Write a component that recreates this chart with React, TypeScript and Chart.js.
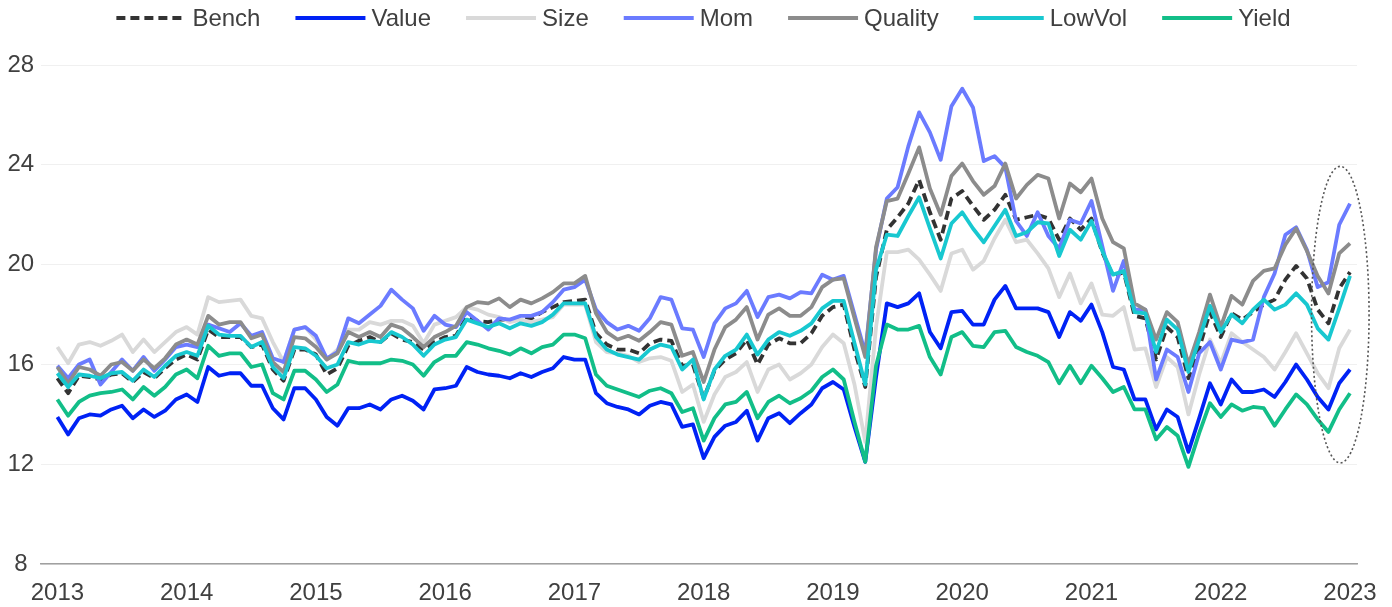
import React, { useEffect, useRef } from "react";
import { Chart, registerables } from "chart.js";

Chart.register(...registerables);

const yearLabels = ["2013", "2014", "2015", "2016", "2017", "2018", "2019", "2020", "2021", "2022", "2023"];
const yTicks = [8, 12, 16, 20, 24, 28];

const bench = [15.45, 14.85, 15.55, 15.5, 15.4, 15.6, 15.65, 15.3, 15.7, 15.45, 15.85, 16.2, 16.4, 16.2, 17.4, 17.1, 17.1, 17.1, 16.7, 16.8, 15.8, 15.35, 16.6, 16.6, 16.4, 15.6, 15.85, 16.75, 16.95, 17.1, 16.9, 17.25, 17.0, 16.9, 16.6, 16.9, 17.1, 17.15, 17.9, 17.75, 17.7, 17.8, 17.8, 17.8, 17.85, 18.1, 18.3, 18.5, 18.55, 18.6, 17.25, 16.8, 16.6, 16.6, 16.45, 16.85, 17.0, 16.95, 15.95, 16.0, 14.65, 15.75, 16.2, 16.45, 17.0, 16.0, 16.8, 17.05, 16.85, 16.85, 17.25, 17.95, 18.3, 18.4, 16.6, 15.1, 19.5, 21.4, 21.9, 22.45, 23.4, 22.1, 21.0, 22.65, 22.95, 22.35, 21.8, 22.2, 22.8, 21.8, 21.9, 22.0, 21.85, 21.0, 21.85, 21.4, 21.85, 20.5, 19.55, 19.7, 17.95, 17.85, 16.2, 17.5, 17.1, 15.45, 16.65, 18.1, 17.1, 18.05, 17.8, 18.1, 18.4, 18.6, 19.4, 19.95, 19.45, 18.2, 17.65, 19.05, 19.7];

const value = [13.9, 13.2, 13.85, 14.0, 13.95, 14.2, 14.35, 13.85, 14.2, 13.9, 14.15, 14.6, 14.8, 14.5, 15.9, 15.55, 15.65, 15.65, 15.15, 15.15, 14.25, 13.8, 15.05, 15.05, 14.6, 13.9, 13.55, 14.25, 14.25, 14.4, 14.2, 14.6, 14.75, 14.55, 14.2, 15.0, 15.05, 15.15, 15.9, 15.7, 15.6, 15.55, 15.45, 15.65, 15.5, 15.7, 15.85, 16.3, 16.2, 16.2, 14.85, 14.45, 14.3, 14.2, 14.0, 14.35, 14.5, 14.4, 13.5, 13.6, 12.25, 13.1, 13.55, 13.7, 14.15, 12.95, 13.85, 14.05, 13.65, 14.05, 14.4, 15.05, 15.3, 15.0, 13.5, 12.1, 15.5, 18.45, 18.3, 18.45, 18.85, 17.3, 16.65, 18.1, 18.15, 17.6, 17.6, 18.6, 19.15, 18.25, 18.25, 18.25, 18.1, 17.1, 18.1, 17.75, 18.4, 17.3, 15.9, 15.8, 14.6, 14.6, 13.4, 14.2, 13.9, 12.5, 13.85, 15.25, 14.4, 15.4, 14.9, 14.9, 15.0, 14.7, 15.3, 16.0, 15.4, 14.7, 14.2, 15.25, 15.8];

const size = [16.7, 16.05, 16.8, 16.9, 16.75, 16.95, 17.2, 16.5, 17.0, 16.5, 16.9, 17.3, 17.5, 17.2, 18.7, 18.5, 18.55, 18.6, 17.95, 17.85, 16.9, 16.1, 17.4, 17.5, 17.0, 16.2, 16.6, 17.4, 17.4, 17.7, 17.6, 17.75, 17.75, 17.55, 16.85, 17.6, 17.75, 17.9, 18.3, 18.2, 18.0, 17.9, 17.7, 17.8, 17.7, 17.8, 17.9, 18.4, 18.4, 18.4, 16.9, 16.5, 16.45, 16.35, 16.1, 16.25, 16.3, 16.15, 14.9, 15.2, 13.7, 14.8, 15.5, 15.7, 16.1, 14.9, 15.8, 16.0, 15.4, 15.65, 16.0, 16.7, 17.2, 16.85, 15.2, 12.9, 17.5, 20.5, 20.5, 20.6, 20.2, 19.6, 18.95, 20.45, 20.6, 19.8, 20.15, 21.05, 21.8, 20.9, 21.0, 20.45, 19.85, 18.7, 19.65, 18.45, 19.25, 18.0, 17.95, 18.3, 16.6, 16.65, 15.1, 16.3, 15.9, 14.0, 15.6, 17.0, 16.05, 17.25, 16.9, 16.6, 16.3, 15.8, 16.5, 17.25, 16.45, 15.65, 15.05, 16.65, 17.4];

const mom = [15.95, 15.45, 16.0, 16.2, 15.2, 15.7, 16.2, 15.75, 16.3, 15.75, 16.2, 16.7, 16.8, 16.7, 17.6, 17.45, 17.3, 17.65, 17.15, 17.3, 16.25, 16.1, 17.4, 17.5, 17.15, 16.25, 16.5, 17.85, 17.65, 18.0, 18.35, 19.0, 18.6, 18.25, 17.35, 17.95, 17.6, 17.5, 18.1, 17.75, 17.4, 17.85, 17.8, 17.95, 17.95, 18.1, 18.5, 19.0, 19.1, 19.4, 18.2, 17.7, 17.4, 17.55, 17.35, 17.85, 18.7, 18.6, 17.45, 17.4, 16.3, 17.65, 18.25, 18.45, 18.95, 17.9, 18.7, 18.8, 18.65, 18.9, 18.85, 19.6, 19.4, 19.55, 18.0, 16.45, 20.6, 22.65, 23.1, 24.75, 26.1, 25.3, 24.2, 26.35, 27.05, 26.3, 24.15, 24.35, 23.9, 21.75, 21.15, 22.1, 21.15, 20.65, 21.8, 21.65, 22.55, 20.75, 18.95, 20.15, 18.2, 18.2, 15.4, 16.6, 16.3, 14.9, 16.45, 16.9, 15.8, 17.0, 16.9, 17.0, 18.7, 19.65, 21.2, 21.5, 20.6, 19.1, 19.3, 21.6, 22.45];

const quality = [15.9, 15.25, 15.9, 15.8, 15.55, 16.0, 16.1, 15.75, 16.2, 15.85, 16.25, 16.8, 17.0, 16.8, 17.95, 17.6, 17.7, 17.7, 17.05, 17.2, 16.1, 15.7, 17.1, 17.05, 16.7, 16.2, 16.45, 17.3, 17.1, 17.3, 17.1, 17.6, 17.45, 17.1, 16.7, 17.1, 17.3, 17.55, 18.3, 18.5, 18.45, 18.65, 18.3, 18.6, 18.45, 18.65, 18.9, 19.25, 19.25, 19.55, 18.05, 17.3, 17.0, 17.15, 16.95, 17.3, 17.7, 17.6, 16.35, 16.5, 15.3, 16.6, 17.5, 17.8, 18.3, 17.0, 18.0, 18.25, 17.95, 17.95, 18.3, 19.1, 19.4, 19.45, 17.85, 16.3, 20.7, 22.55, 22.65, 23.65, 24.7, 23.05, 22.0, 23.55, 24.05, 23.35, 22.8, 23.15, 24.05, 22.65, 23.2, 23.6, 23.45, 21.85, 23.25, 22.9, 23.45, 21.85, 20.9, 20.65, 18.45, 18.2, 17.0, 18.1, 17.7, 16.0, 17.3, 18.8, 17.5, 18.75, 18.4, 19.35, 19.75, 19.85, 20.8, 21.45, 20.55, 19.55, 18.85, 20.45, 20.85];

const lowVol = [15.65, 15.1, 15.6, 15.55, 15.45, 15.65, 15.7, 15.35, 15.8, 15.5, 15.95, 16.35, 16.5, 16.35, 17.55, 17.2, 17.15, 17.15, 16.7, 16.9, 15.9, 15.45, 16.7, 16.65, 16.35, 15.85, 16.0, 16.9, 16.8, 16.95, 16.9, 17.3, 17.1, 16.8, 16.35, 16.8, 17.0, 17.1, 17.8, 17.65, 17.5, 17.65, 17.45, 17.65, 17.55, 17.7, 18.0, 18.45, 18.45, 18.45, 17.1, 16.6, 16.4, 16.3, 16.2, 16.6, 16.8, 16.7, 15.8, 16.2, 14.6, 15.8, 16.35, 16.6, 17.2, 16.4, 17.0, 17.3, 17.15, 17.35, 17.65, 18.25, 18.55, 18.55, 16.85, 15.2, 19.8, 21.2, 21.15, 21.95, 22.7, 21.45, 20.25, 21.65, 22.1, 21.45, 20.9, 21.55, 22.2, 21.15, 21.3, 21.7, 21.65, 20.35, 21.4, 21.0, 21.75, 20.55, 19.6, 19.75, 18.1, 18.05, 16.5, 17.8, 17.4, 15.7, 17.0, 18.35, 17.3, 18.0, 17.65, 18.2, 18.6, 18.2, 18.4, 18.85, 18.4, 17.45, 17.0, 18.25, 19.55];

const yieldF = [14.6, 13.95, 14.5, 14.75, 14.85, 14.9, 15.0, 14.6, 15.1, 14.75, 15.1, 15.6, 15.8, 15.45, 16.75, 16.35, 16.45, 16.45, 15.9, 16.0, 14.85, 14.6, 15.75, 15.75, 15.4, 14.9, 15.2, 16.15, 16.05, 16.05, 16.05, 16.2, 16.15, 16.0, 15.55, 16.1, 16.35, 16.35, 16.9, 16.8, 16.65, 16.55, 16.4, 16.65, 16.45, 16.7, 16.8, 17.2, 17.2, 17.05, 15.6, 15.15, 15.0, 14.85, 14.7, 14.95, 15.05, 14.85, 14.1, 14.25, 12.95, 13.85, 14.4, 14.5, 14.9, 13.85, 14.5, 14.75, 14.45, 14.65, 14.95, 15.5, 15.8, 15.4, 13.7, 12.1, 15.95, 17.6, 17.4, 17.4, 17.55, 16.3, 15.6, 17.1, 17.3, 16.75, 16.7, 17.3, 17.35, 16.7, 16.5, 16.35, 16.1, 15.25, 15.95, 15.25, 15.95, 15.45, 14.9, 15.1, 14.2, 14.2, 13.0, 13.5, 13.15, 11.9, 13.25, 14.45, 13.9, 14.4, 14.15, 14.3, 14.25, 13.55, 14.2, 14.8, 14.4, 13.8, 13.3, 14.2, 14.85];

const seriesNames = ["Bench", "Value", "Size", "Mom", "Quality", "LowVol", "Yield"];
const seriesValues = [bench, value, size, mom, quality, lowVol, yieldF];
const seriesColors = ["#333333", "#0022f5", "#d9d9d9", "#6b7bff", "#8c8c8c", "#18c8d0", "#12be88"];

// Dotted ellipse highlight, in data units (month index, value)
const highlight = { cx: 119.1, cy: 18.0, rx: 2.67, ry: 5.94 };

const FONT = "'Liberation Sans', Arial, sans-serif";
const FONT_SIZE = 24;
const TEXT_COLOR = "#404040";

const ellipsePlugin = {
  id: "highlightEllipse",
  afterDatasetsDraw(chart: any) {
    const { ctx, scales } = chart;
    const xs = scales.x;
    const ys = scales.y;
    const cx = xs.getPixelForValue(highlight.cx);
    const cy = ys.getPixelForValue(highlight.cy);
    const rx = Math.abs(xs.getPixelForValue(highlight.cx + highlight.rx) - cx);
    const ry = Math.abs(ys.getPixelForValue(highlight.cy + highlight.ry) - cy);
    ctx.save();
    ctx.beginPath();
    ctx.setLineDash([2, 2.5]);
    ctx.lineWidth = 1.6;
    ctx.strokeStyle = "#555555";
    ctx.ellipse(cx, cy, rx, ry, 0, 0, Math.PI * 2);
    ctx.stroke();
    ctx.restore();
  },
};

const legendPlugin = {
  id: "lineLegend",
  afterDraw(chart: any) {
    const { ctx } = chart;
    const lineLen = 70;
    const gap = 6;
    const itemGap = 35;
    const y = 18;
    ctx.save();
    ctx.font = `${FONT_SIZE}px ${FONT}`;
    const widths = seriesNames.map((n) => ctx.measureText(n).width);
    const total = widths.reduce((s, w) => s + w + lineLen + gap, 0) + itemGap * (seriesNames.length - 1);
    const center = chart.width / 2 + 7.5;
    let x = center - total / 2;
    seriesNames.forEach((name, k) => {
      const ds = chart.data.datasets[k];
      ctx.beginPath();
      ctx.setLineDash(ds.borderDash || []);
      ctx.lineWidth = ds.borderWidth;
      ctx.strokeStyle = ds.borderColor;
      ctx.lineCap = "butt";
      ctx.moveTo(x, y);
      ctx.lineTo(x + lineLen, y);
      ctx.stroke();
      ctx.setLineDash([]);
      ctx.fillStyle = TEXT_COLOR;
      ctx.textBaseline = "middle";
      ctx.textAlign = "left";
      ctx.fillText(name, x + lineLen + gap, y + 1);
      x += lineLen + gap + widths[k] + itemGap;
    });
    ctx.restore();
  },
};

export default function App() {
  const ref = useRef<HTMLCanvasElement | null>(null);

  useEffect(() => {
    if (!ref.current) return;
    const datasets = seriesNames.map((name, k) => ({
      label: name,
      data: seriesValues[k].map((v, i) => ({ x: i, y: v })),
      borderColor: seriesColors[k],
      backgroundColor: seriesColors[k],
      borderWidth: 3.8,
      borderDash: k === 0 ? [9, 5] : [],
      pointRadius: 0,
      tension: 0,
      fill: false,
      order: seriesNames.length - k,
      borderJoinStyle: "round" as const,
    }));

    const chart = new Chart(ref.current, {
      type: "line",
      data: { datasets },
      plugins: [ellipsePlugin, legendPlugin],
      options: {
        animation: false,
        responsive: true,
        maintainAspectRatio: false,
        layout: { padding: { left: 1, right: 35, top: 65, bottom: -16 } },
        plugins: {
          tooltip: { enabled: false },
          legend: { display: false },
        },
        scales: {
          x: {
            type: "linear",
            min: -1.55,
            max: 120.65,
            grid: { display: false, drawTicks: false },
            border: { display: true, color: "#a0a0a0", width: 1.5 },
            afterBuildTicks: (scale: any) => {
              scale.ticks = yearLabels.map((_, j) => ({ value: j * 12 }));
            },
            ticks: {
              autoSkip: false,
              maxRotation: 0,
              padding: 15,
              color: TEXT_COLOR,
              font: { family: FONT, size: FONT_SIZE },
              callback: (v: any) => yearLabels[Math.round(Number(v) / 12)],
            },
          },
          y: {
            min: 8,
            max: 28,
            afterBuildTicks: (scale: any) => {
              scale.ticks = yTicks.map((v) => ({ value: v }));
            },
            grid: { color: "#f0f0f0", lineWidth: 1, drawTicks: false },
            border: { display: false },
            ticks: {
              padding: 6.5,
              crossAlign: "center",
              color: TEXT_COLOR,
              font: { family: FONT, size: FONT_SIZE },
            },
          },
        },
      },
    });
    return () => chart.destroy();
  }, []);

  return (
    <div style={{ position: "fixed", left: 0, top: 0, width: 1392, height: 607, background: "#fff" }}>
      <canvas ref={ref} />
    </div>
  );
}
